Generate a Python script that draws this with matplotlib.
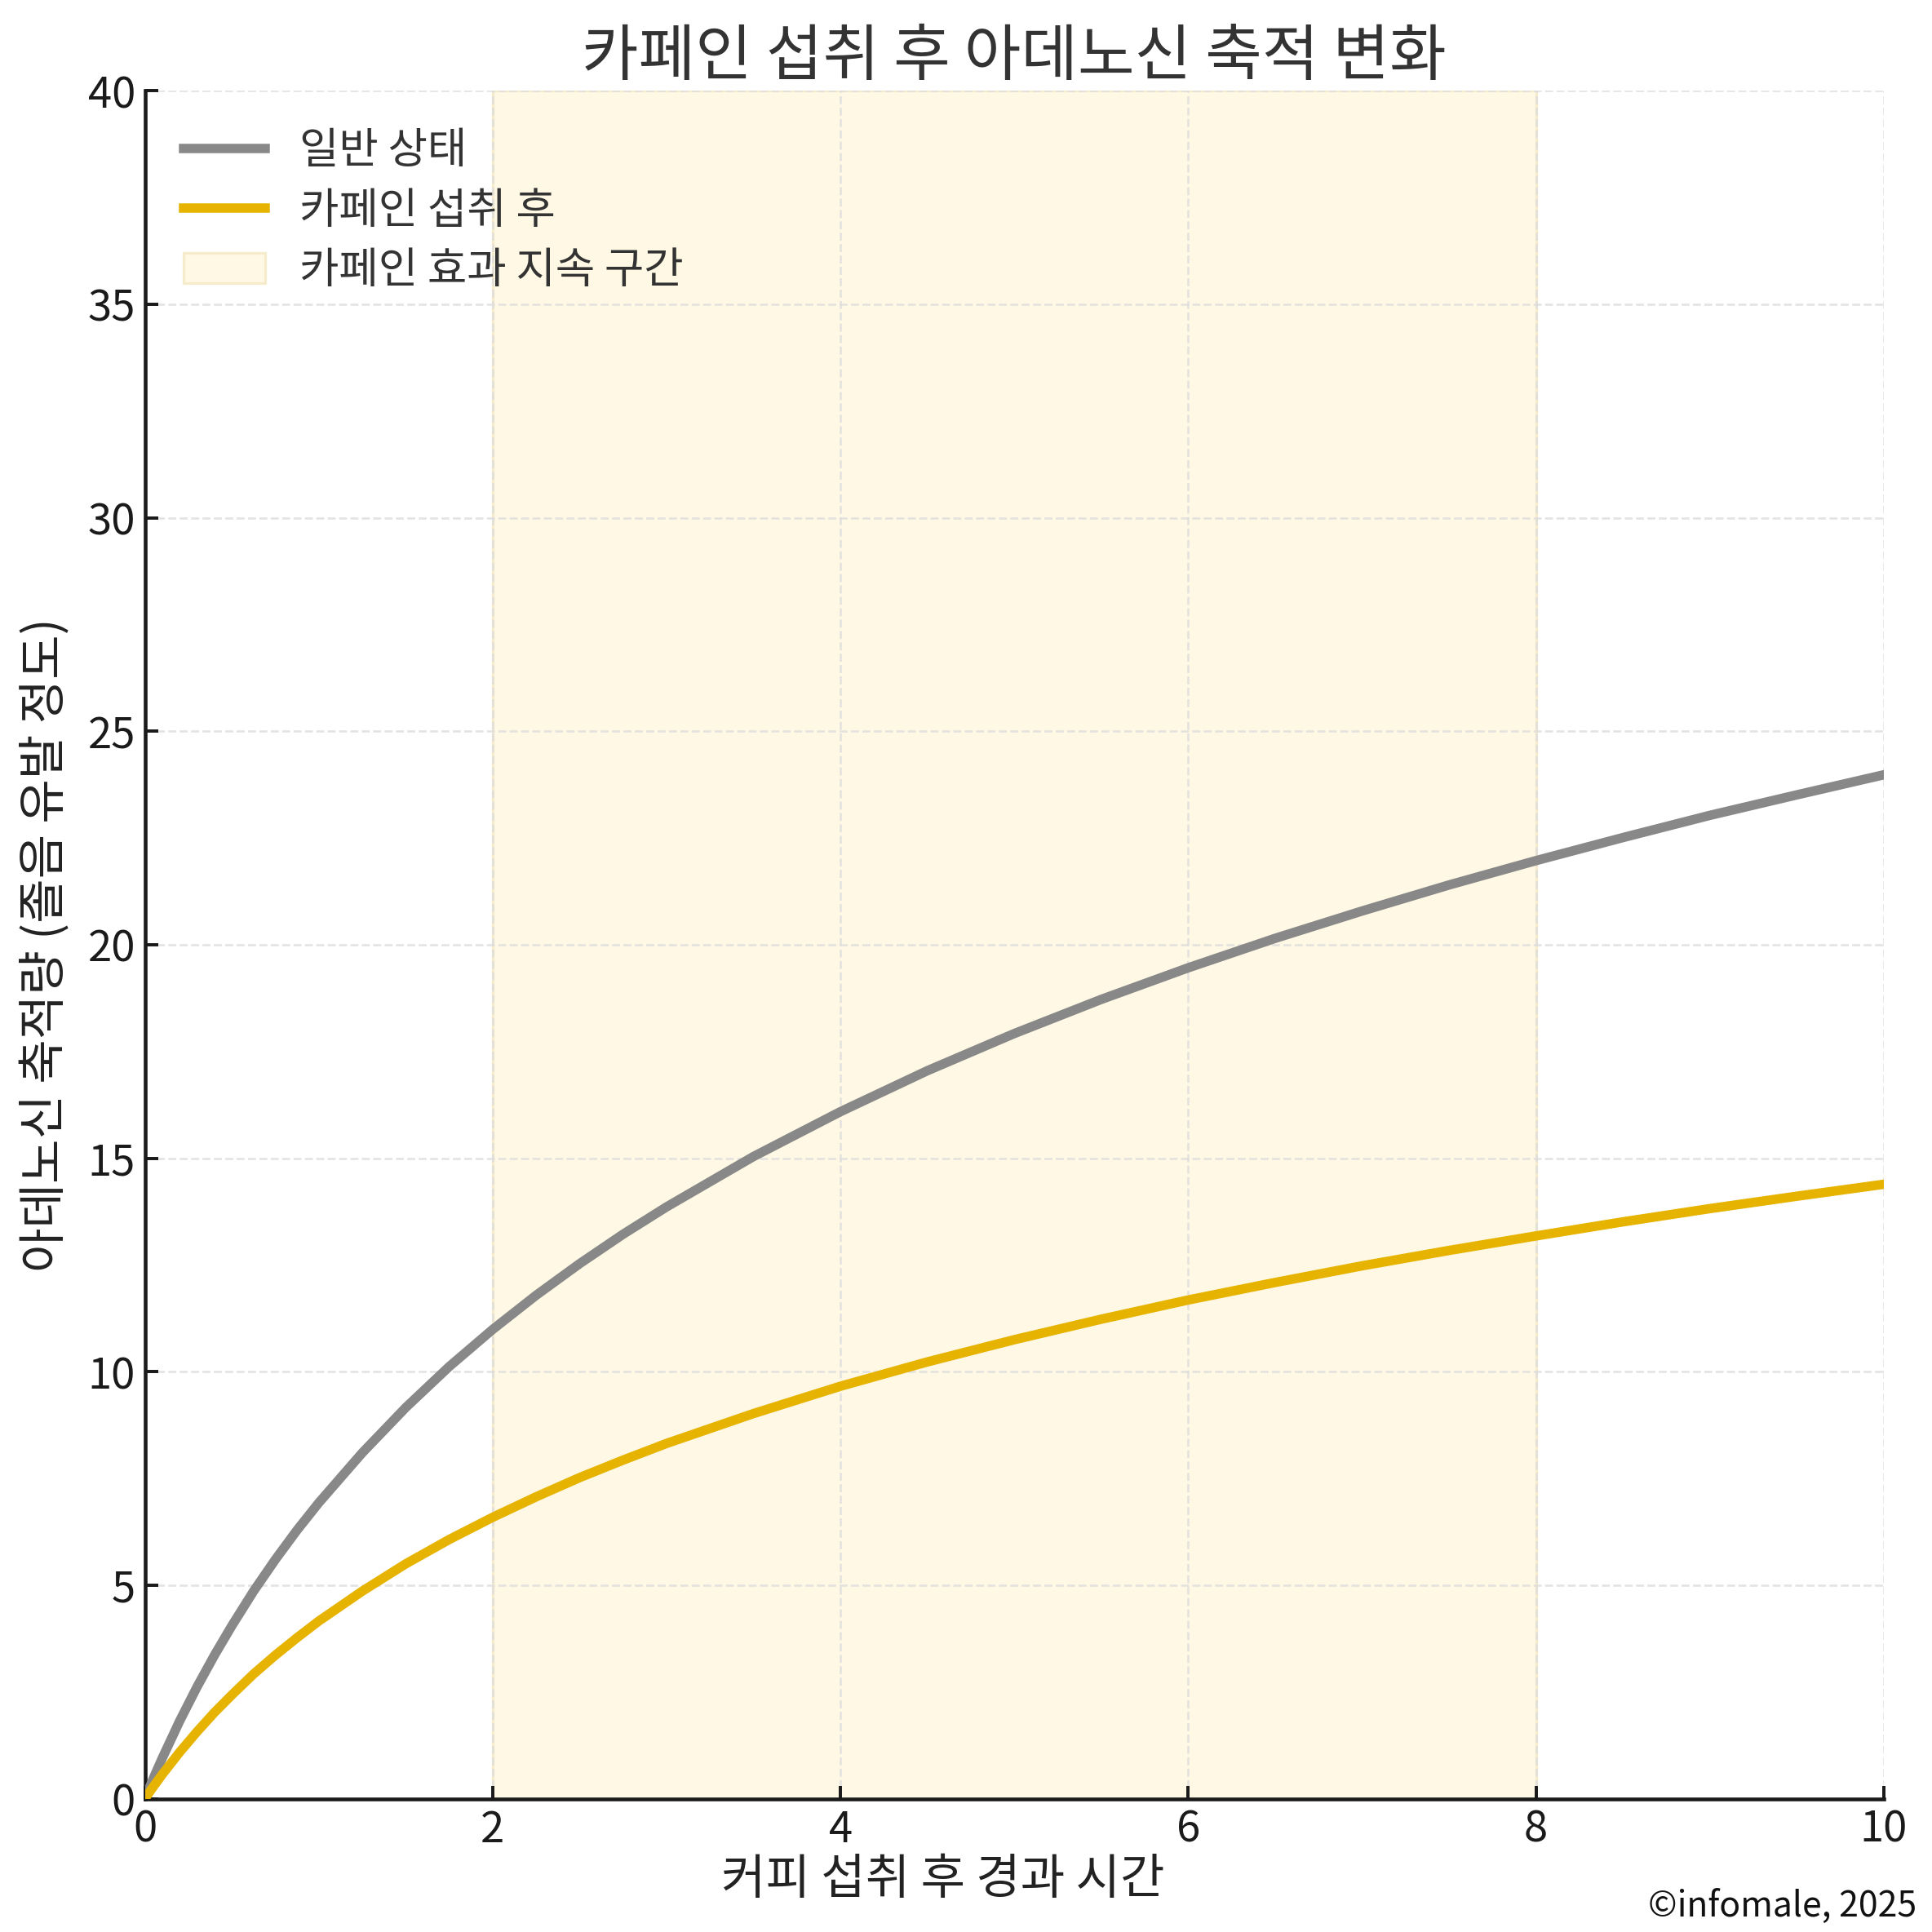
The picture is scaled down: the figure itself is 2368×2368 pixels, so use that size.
import matplotlib
matplotlib.use('Agg')
import matplotlib.pyplot as plt

plt.rcParams['font.family'] = ['Noto Sans CJK KR', 'DejaVu Sans']

# values
hours = [0, 0.05, 0.1, 0.2, 0.3, 0.4, 0.5, 0.625, 0.75, 0.875, 1, 1.25, 1.5, 1.75,
         2, 2.25, 2.5, 2.75, 3, 3.5, 4, 4.5, 5, 5.5, 6, 6.5, 7, 7.5, 8, 8.5, 9, 9.5, 10]
normal = [0, 0.49, 0.95, 1.82, 2.62, 3.36, 4.05, 4.86, 5.6, 6.29, 6.93, 8.1, 9.16, 10.12,
          10.99, 11.79, 12.53, 13.22, 13.86, 15.04, 16.09, 17.05, 17.92, 18.72, 19.46,
          20.15, 20.79, 21.4, 21.97, 22.51, 23.03, 23.51, 23.98]
caffeine = [0, 0.29, 0.57, 1.09, 1.57, 2.02, 2.43, 2.92, 3.36, 3.77, 4.16, 4.86, 5.5, 6.07,
            6.59, 7.07, 7.52, 7.93, 8.32, 9.02, 9.66, 10.23, 10.75, 11.23, 11.68,
            12.09, 12.48, 12.84, 13.18, 13.51, 13.82, 14.11, 14.39]
span_start, span_end = 2, 8

fig = plt.figure(figsize=(10, 10), dpi=236.8)
ax = fig.add_axes([0.075, 0.069, 0.9, 0.884])

ax.axvspan(span_start, span_end, facecolor='#FFF8E4', edgecolor='#F6EBCB',
           linewidth=1, label='카페인 효과 지속 구간', zorder=0)
ax.plot(hours, normal, color='#888888', linewidth=3.5, label='일반 상태', zorder=3)
ax.plot(hours, caffeine, color='#E6B400', linewidth=3.5, label='카페인 섭취 후', zorder=3)

ax.set_xlim(0, 10)
ax.set_ylim(0, 40)
ax.set_xticks([0, 2, 4, 6, 8, 10])
ax.set_yticks(range(0, 41, 5))
ax.grid(True, linestyle='--', color='#DDDDDD', linewidth=0.8, alpha=0.8)
ax.set_axisbelow(True)

for s in ['top', 'right']:
    ax.spines[s].set_visible(False)
for s in ['left', 'bottom']:
    ax.spines[s].set_linewidth(1.4)
    ax.spines[s].set_color('#1a1a1a')
ax.tick_params(direction='in', length=5, width=1.2, labelsize=16, colors='#1a1a1a')

ax.set_title('카페인 섭취 후 아데노신 축적 변화', fontsize=23, color='#333333', pad=6)
ax.set_xlabel('커피 섭취 후 경과 시간', fontsize=18, color='#222222')
ax.xaxis.set_label_coords(0.459, -0.033)
ax.set_ylabel('아데노신 축적량 (졸음 유발 정도)', fontsize=18, color='#222222', labelpad=6)

h, l = ax.get_legend_handles_labels()
order = [1, 2, 0]
ax.legend([h[i] for i in order], [l[i] for i in order], loc='upper left',
          frameon=False, fontsize=16, borderaxespad=0.5, handlelength=1.9,
          labelspacing=0.38, labelcolor='#333333')

fig.text(0.992, 0.004, '©infomale, 2025', ha='right', va='bottom', fontsize=13, color='#111111')

plt.savefig('out.png')
